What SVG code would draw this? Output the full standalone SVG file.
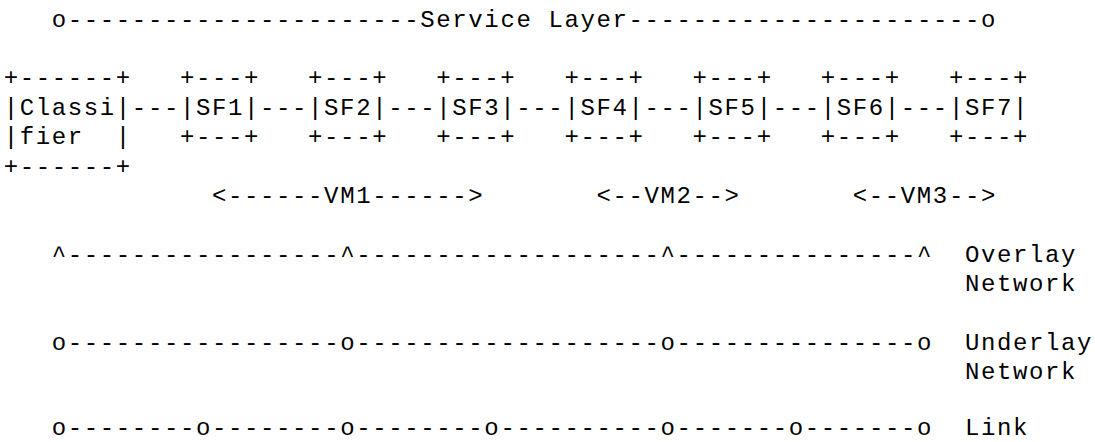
<svg xmlns="http://www.w3.org/2000/svg" width="1095" height="442" viewBox="0 0 1095 442" xml:space="preserve">
<style>
text { font-family: "Liberation Mono", "Courier New", monospace; font-size: 24px; letter-spacing: 1.62px; fill: #000; white-space: pre; }
</style>
<rect width="1095" height="442" fill="#fff"/>
<g id="service-layer">
<text x="51.76" y="26.6">o----------------------Service Layer----------------------o</text>
</g>
<g id="classifier">
<text x="3.7" y="85.4">+------+</text>
<text x="3.7" y="114.8">|Classi|</text>
<text x="3.7" y="144.2">|fier  |</text>
<text x="3.7" y="173.6">+------+</text>
</g>
<g id="sf1">
<text x="179.92" y="85.4">+---+</text>
<text x="179.92" y="114.8">|SF1|</text>
<text x="179.92" y="144.2">+---+</text>
</g>
<g id="sf2">
<text x="308.08" y="85.4">+---+</text>
<text x="308.08" y="114.8">|SF2|</text>
<text x="308.08" y="144.2">+---+</text>
</g>
<g id="sf3">
<text x="436.24" y="85.4">+---+</text>
<text x="436.24" y="114.8">|SF3|</text>
<text x="436.24" y="144.2">+---+</text>
</g>
<g id="sf4">
<text x="564.4" y="85.4">+---+</text>
<text x="564.4" y="114.8">|SF4|</text>
<text x="564.4" y="144.2">+---+</text>
</g>
<g id="sf5">
<text x="692.56" y="85.4">+---+</text>
<text x="692.56" y="114.8">|SF5|</text>
<text x="692.56" y="144.2">+---+</text>
</g>
<g id="sf6">
<text x="820.72" y="85.4">+---+</text>
<text x="820.72" y="114.8">|SF6|</text>
<text x="820.72" y="144.2">+---+</text>
</g>
<g id="sf7">
<text x="948.88" y="85.4">+---+</text>
<text x="948.88" y="114.8">|SF7|</text>
<text x="948.88" y="144.2">+---+</text>
</g>
<g id="connectors">
<text x="131.86" y="114.8">---</text>
<text x="260.02" y="114.8">---</text>
<text x="388.18" y="114.8">---</text>
<text x="516.34" y="114.8">---</text>
<text x="644.5" y="114.8">---</text>
<text x="772.66" y="114.8">---</text>
<text x="900.82" y="114.8">---</text>
</g>
<g id="vm1"><text x="211.96" y="202.9">&lt;------VM1------&gt;</text></g>
<g id="vm2"><text x="596.44" y="202.9">&lt;--VM2--&gt;</text></g>
<g id="vm3"><text x="852.76" y="202.9">&lt;--VM3--&gt;</text></g>
<g id="overlay-network">
<text x="51.76" y="261.7">^-----------------^-------------------^---------------^</text>
<text x="964.9" y="261.7">Overlay</text>
<text x="964.9" y="291.1">Network</text>
</g>
<g id="underlay-network">
<text x="51.76" y="349.9">o-----------------o-------------------o---------------o</text>
<text x="964.9" y="349.9">Underlay</text>
<text x="964.9" y="379.3">Network</text>
</g>
<g id="link">
<text x="51.76" y="434.6">o--------o--------o--------o----------o-------o-------o</text>
<text x="964.9" y="434.6">Link</text>
</g>
</svg>
